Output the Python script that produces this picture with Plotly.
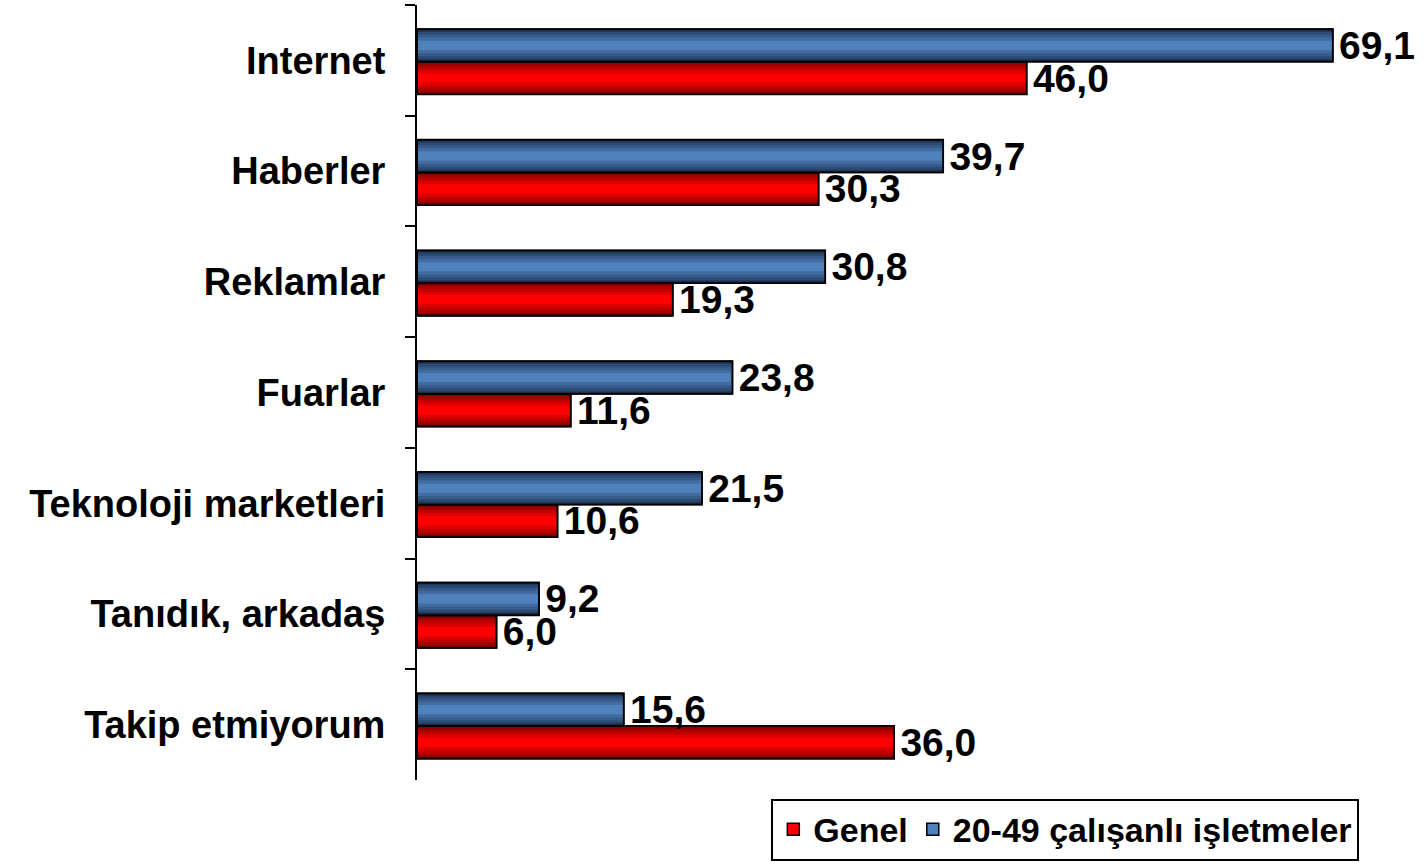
import plotly.graph_objects as go

categories = ["Internet", "Haberler", "Reklamlar", "Fuarlar",
              "Teknoloji marketleri", "Tanıdık, arkadaş", "Takip etmiyorum"]
genel = [46.0, 30.3, 19.3, 11.6, 10.6, 6.0, 36.0]
isletme_20_49 = [69.1, 39.7, 30.8, 23.8, 21.5, 9.2, 15.6]
series_names = ["Genel", "20-49 çalışanlı işletmeler"]

FONT = "Liberation Sans, Arial, Helvetica, sans-serif"
BAR_W = 0.295


def mix(c1, c2, t):
    return "rgb(%d,%d,%d)" % tuple(round(a + (b - a) * t) for a, b in zip(c1, c2))


def add_series(fig, values, name, offset, center, edge, rank):
    labels = [f"{v:.1f}".replace(".", ",") for v in values]
    fig.add_trace(go.Bar(
        y=categories, x=values, orientation="h", name=name,
        width=BAR_W, offset=offset,
        marker=dict(color=mix(center, center, 0), line=dict(color="black", width=1.5)),
        legendrank=rank, showlegend=True, hoverinfo="skip"))
    levels = [(0.36, 0.25), (0.26, 0.45), (0.17, 0.65), (0.09, 0.85), (0.04, 1.0)]
    for frac, t in levels:
        k = BAR_W * frac
        for off in (offset, offset + BAR_W - k):
            fig.add_trace(go.Bar(
                y=categories, x=values, orientation="h",
                width=k, offset=off,
                marker=dict(color=mix(center, edge, t), line=dict(width=0)),
                showlegend=False, hoverinfo="skip"))
    fig.add_trace(go.Bar(
        y=categories, x=values, orientation="h",
        width=BAR_W, offset=offset,
        marker=dict(color="rgba(0,0,0,0)", line=dict(color="black", width=1.8)),
        text=["\u200a" + s for s in labels], textposition="outside", constraintext="none",
        textfont=dict(family=FONT, size=39, color="black", weight="bold"),
        cliponaxis=False, showlegend=False, hoverinfo="skip"))


fig = go.Figure()
add_series(fig, genel, series_names[0], 0.012, (255, 0, 0), (120, 0, 0), 1)
add_series(fig, isletme_20_49, series_names[1], -0.283, (79, 129, 189), (25, 45, 75), 2)

fig.update_layout(
    width=1424, height=864,
    margin=dict(l=417, r=13, t=5, b=84, autoexpand=False),
    paper_bgcolor="white", plot_bgcolor="white",
    barmode="overlay",
    showlegend=True,
    legend=dict(
        orientation="h", x=0.948, xanchor="right", y=-0.104, yanchor="bottom",
        bordercolor="black", borderwidth=2,
        font=dict(family=FONT, size=34, color="black", weight="bold"),
        itemclick=False, itemdoubleclick=False, itemwidth=30,
    ),
    xaxis=dict(range=[0, 75], visible=False, showgrid=False, zeroline=False,
               automargin=False),
    yaxis=dict(
        type="category", autorange="reversed", automargin=False,
        showline=True, linecolor="black", linewidth=2,
        ticks="outside", tickson="boundaries", ticklen=10, tickwidth=2, tickcolor="black",
        ticklabelstandoff=22,
        tickfont=dict(family=FONT, size=38, color="black", weight="bold"),
        showgrid=False, zeroline=False,
    ),
)

fig.write_html("out.html", config={"displayModeBar": False},
               post_script="document.body.style.margin='0';")
